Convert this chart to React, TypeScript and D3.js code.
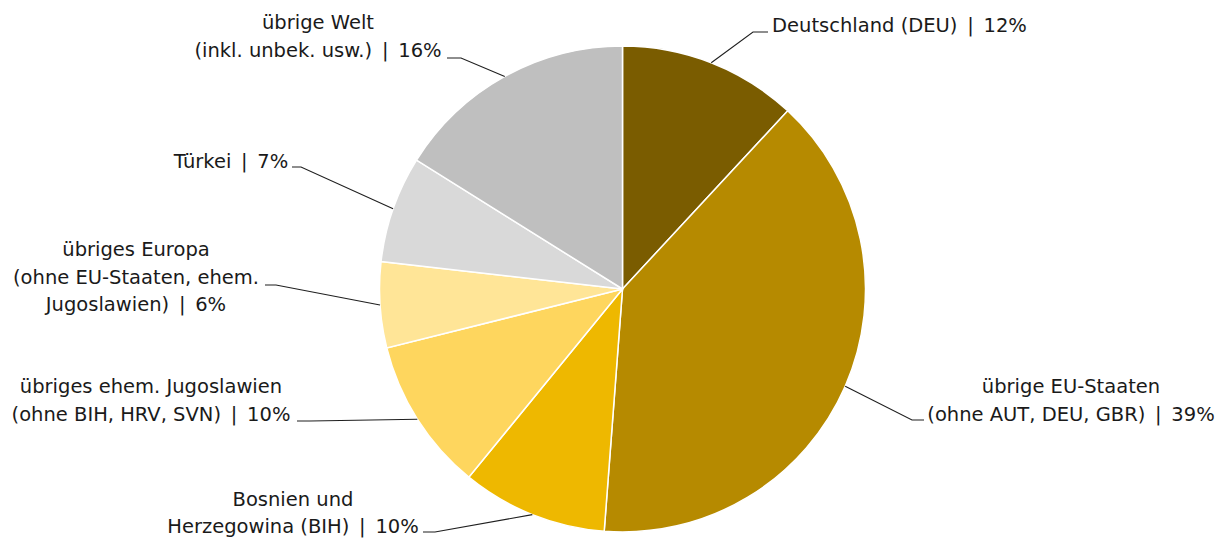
import React from "react";
import * as d3 from "d3";

const categoryLines: string[][] = [
  ["Deutschland (DEU)"],
  ["übrige EU-Staaten", "(ohne AUT, DEU, GBR)"],
  ["Bosnien und", "Herzegowina (BIH)"],
  ["übriges ehem. Jugoslawien", "(ohne BIH, HRV, SVN)"],
  ["übriges Europa", "(ohne EU-Staaten, ehem.", "Jugoslawien)"],
  ["Türkei"],
  ["übrige Welt", "(inkl. unbek. usw.)"],
];
const values: number[] = [11.9, 39.3, 9.7, 10.2, 5.7, 7.1, 16.1];
const colors: string[] = ["#7A5C00", "#B68A00", "#EEB800", "#FED65E", "#FFE597", "#D9D9D9", "#BFBFBF"];

// label layout: text center x, first baseline y, stub (text-side x, elbow x, y)
const labelLayout = [
  { cx: 899.5, y0: 32, sx: 768, ex: 753, sy: 32 },
  { cx: 1071, y0: 393, sx: 924, ex: 912, sy: 420 },
  { cx: 293, y0: 505.5, sx: 423, ex: 435, sy: 532 },
  { cx: 151, y0: 393, sx: 297, ex: 310, sy: 421 },
  { cx: 136, y0: 256, sx: 265, ex: 276, sy: 285 },
  { cx: 231, y0: 168, sx: 292, ex: 301, sy: 167 },
  { cx: 318, y0: 29, sx: 447, ex: 461, sy: 58 },
];

const W = 1223;
const H = 538;
const CX = 622.5;
const CY = 289;
const R = 243;
const LINE_H = 27.5;

export default function App() {
  const pie = d3.pie<number>().sort(null).value((d) => d);
  const arcs = pie(values);
  const arc = d3.arc<d3.PieArcDatum<number>>().innerRadius(0).outerRadius(R);
  const edge = d3.arc<d3.PieArcDatum<number>>().innerRadius(R).outerRadius(R);
  const fmt = (v: number) => `${Math.round(v)}%`;

  return (
    <div style={{ position: "absolute", left: 0, top: 0 }}>
      <svg width={W} height={H} style={{ display: "block" }}>
        <rect width={W} height={H} fill="#ffffff" />
        <g transform={`translate(${CX},${CY})`}>
          {arcs.map((a, i) => (
            <path key={i} d={arc(a) || ""} fill={colors[i]} stroke="#ffffff" strokeWidth={1.5} />
          ))}
        </g>
        {arcs.map((a, i) => {
          const [px, py] = edge.centroid(a);
          const L = labelLayout[i];
          const pts = [
            [L.sx, L.sy],
            [L.ex, L.sy],
            [CX + px, CY + py],
          ];
          return (
            <polyline
              key={"l" + i}
              points={pts.map((p) => p.join(",")).join(" ")}
              fill="none"
              stroke="#1f1f1f"
              strokeWidth={1.1}
            />
          );
        })}
        {categoryLines.map((lines, i) => {
          const L = labelLayout[i];
          const n = lines.length;
          return (
            <text
              key={"t" + i}
              textAnchor="middle"
              fontFamily="'DejaVu Sans', sans-serif"
              fontSize={19.5}
              fill="#1a1a1a"
            >
              {lines.map((ln, j) => (
                <tspan key={j} x={L.cx} y={L.y0 + j * LINE_H}>
                  {j === n - 1 ? `${ln}\u2002|\u2002${fmt(values[i])}` : ln}
                </tspan>
              ))}
            </text>
          );
        })}
      </svg>
    </div>
  );
}
